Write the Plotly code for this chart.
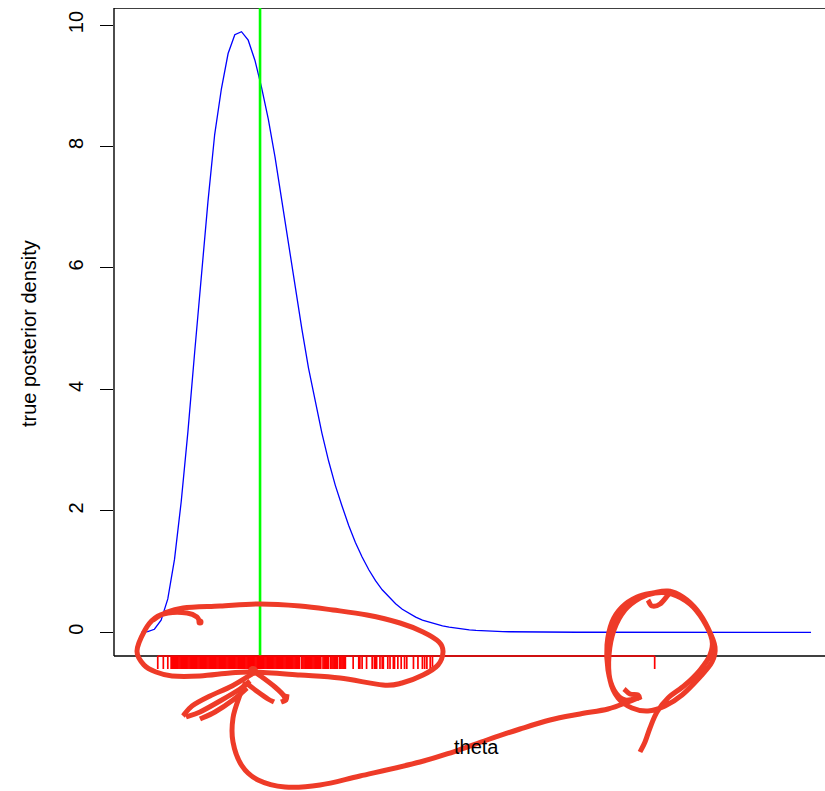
import numpy as np
import plotly.graph_objects as go

W, H = 825, 791
FONT = "Liberation Sans, Arial, Helvetica, sans-serif"

# ---- data -----------------------------------------------------------------
# evaluation grid for theta and the true posterior density on that grid
theta_grid = np.round(np.arange(101) * 0.006, 3)
density = [
    0.0, 0.01, 0.05, 0.20, 0.55, 1.20, 2.15, 3.30, 4.60, 5.90,
    7.10, 8.20, 8.95, 9.53, 9.84, 9.89, 9.75, 9.42, 8.97, 8.45,
    7.83, 7.12, 6.40, 5.70, 5.00, 4.35, 3.80, 3.28, 2.82, 2.42,
    2.08, 1.76, 1.48, 1.24, 1.03, 0.85, 0.70, 0.58, 0.47, 0.38,
    0.31, 0.25, 0.20, 0.165, 0.133, 0.107, 0.086, 0.068, 0.053, 0.041,
    0.031, 0.024, 0.018, 0.014, 0.011, 0.009, 0.007, 0.0055, 0.0044, 0.0035,
    0.0027, 0.0021, 0.0017, 0.0013, 0.0010, 0.0008, 0.0006, 0.0005, 0.0004, 0.0003,
    0.0003, 0.0002, 0.0002, 0.0002, 0.0001, 0.0001, 0.0001, 0.0001, 0.0001, 0.0,
    0.0, 0.0, 0.0, 0.0, 0.0, 0.0, 0.0, 0.0, 0.0, 0.0,
    0.0, 0.0, 0.0, 0.0, 0.0, 0.0, 0.0, 0.0, 0.0, 0.0,
    0.0,
]

# true parameter value (vertical reference line)
theta_true = 0.1066

# sampled theta values shown along the x axis (in thousandths of theta)
rug_milli = [
    15, 20, 24,
    27, 28, 29, 30, 31, 32, 33, 34, 35, 36, 37, 38, 39, 40, 41, 42, 43, 44,
    45, 46, 47, 48, 49, 50, 51, 52, 53, 54, 55, 56, 57, 58, 59, 60, 61, 62,
    63, 64, 65, 66, 67, 68, 69, 70, 71, 72, 73, 74, 75, 76, 77, 78, 79, 80,
    81, 82, 83, 84, 85, 86, 87, 88, 89, 90, 91, 92, 93, 94, 95, 96, 97, 98,
    99, 100, 101, 102, 103, 104, 105, 106, 107, 108, 109, 110, 111, 112, 113,
    114, 115, 116, 117, 118, 119, 120, 121, 122, 123, 124, 125, 126, 127, 128,
    129, 130, 131, 132, 133, 134, 135, 136, 137, 138, 139, 140, 141, 142,
    144, 145, 146, 147, 148, 149, 150, 151, 152, 153, 154, 155, 156, 157, 158,
    159, 160, 161, 163, 164, 165, 166, 167, 168, 170, 171, 172, 173, 174, 175,
    176, 178, 179, 180, 181, 182, 183,
    190, 195, 196, 198, 202, 207, 209, 210, 211, 214, 216, 217, 221, 223, 226,
    227, 230, 233, 236, 238, 244, 248, 252, 254, 256, 259, 261,
    460,
]
rug_theta = np.array(rug_milli) / 1000.0

y_ticks = [0, 2, 4, 6, 8, 10]
x_title = "theta"
y_title = "true posterior density"

# ---- axis geometry (pixels of the 825x791 page) ----------------------------
PX_LEFT, PX_RIGHT = 114, 825       # plot region horizontally
PY_TOP, PY_BOT = 8, 700            # axis domain vertically (room for rug ticks)
X0_PX, X_SCALE = 141.0, 1116.7     # theta -> px
Y0_PX, Y_SCALE = 632.3, 60.73      # density -> px

x_range = [(PX_LEFT - X0_PX) / X_SCALE, (PX_RIGHT - X0_PX) / X_SCALE]
y_range = [(Y0_PX - PY_BOT) / Y_SCALE, (Y0_PX - PY_TOP) / Y_SCALE]
y_box_bottom = (Y0_PX - 656) / Y_SCALE
y_box_top = y_range[1]
y_rug_end = (Y0_PX - 669) / Y_SCALE


# page pixels -> paper fractions (margins are zero, so paper = whole page)
def px_x(px):
    return px / W


def px_y(py):
    return 1 - py / H


def smooth_path(pts):
    """Catmull-Rom spline through pixel points, as an SVG path in paper units."""
    p = [pts[0]] + list(pts) + [pts[-1]]
    d = "M {:.5f},{:.5f}".format(px_x(p[1][0]), px_y(p[1][1]))
    for i in range(1, len(p) - 2):
        a, b, c, e = p[i - 1], p[i], p[i + 1], p[i + 2]
        c1 = (b[0] + (c[0] - a[0]) / 6, b[1] + (c[1] - a[1]) / 6)
        c2 = (c[0] - (e[0] - b[0]) / 6, c[1] - (e[1] - b[1]) / 6)
        d += " C {:.5f},{:.5f} {:.5f},{:.5f} {:.5f},{:.5f}".format(
            px_x(c1[0]), px_y(c1[1]), px_x(c2[0]), px_y(c2[1]),
            px_x(c[0]), px_y(c[1]))
    return d


fig = go.Figure()

# posterior density curve
fig.add_trace(go.Scatter(
    x=theta_grid, y=density, mode="lines",
    line=dict(color="#0000FF", width=1.3), hoverinfo="skip"))

# true value
fig.add_trace(go.Scatter(
    x=[theta_true, theta_true], y=[y_box_bottom, y_box_top], mode="lines",
    line=dict(color="#00FF00", width=2.6), hoverinfo="skip"))

# rug: baseline from first to last sample, then one tick per sample
fig.add_trace(go.Scatter(
    x=[rug_theta.min(), rug_theta.max()], y=[y_box_bottom, y_box_bottom],
    mode="lines", line=dict(color="#FF0000", width=1.3), hoverinfo="skip"))
rx, ry = [], []
for t in rug_theta:
    rx += [t, t, None]
    ry += [y_box_bottom, y_rug_end, None]
fig.add_trace(go.Scatter(
    x=rx, y=ry, mode="lines",
    line=dict(color="#FF0000", width=1.7), hoverinfo="skip"))

shapes = []
# plot box (left, top, bottom)
box = dict(color="black", width=1.4)
xl = px_x(PX_LEFT)
shapes.append(dict(type="line", xref="paper", yref="y", x0=xl, x1=xl,
                   y0=y_box_bottom, y1=y_box_top, line=box, layer="below"))
shapes.append(dict(type="line", xref="paper", yref="y", x0=xl, x1=1,
                   y0=y_box_top, y1=y_box_top, line=box, layer="below"))
shapes.append(dict(type="line", xref="paper", yref="y", x0=xl, x1=1,
                   y0=y_box_bottom, y1=y_box_bottom, line=box, layer="below"))

# hand-drawn markup
ink = "rgb(238,59,40)"
strokes = [
    # loop around the bulk of the samples
    [(200, 623), (197, 617), (187, 613), (168, 613), (155, 618), (145, 630),
     (137, 651), (144, 665), (156, 672), (172, 676), (200, 676), (230, 673),
     (253, 672), (300, 675), (340, 678), (383, 685), (402, 683), (423, 675),
     (438, 665), (443, 652), (439, 642), (423, 632), (400, 623), (367, 615),
     (333, 610), (300, 606), (260, 604), (220, 606), (183, 608), (165, 613),
     (153, 620)],
    # feathered strokes below the loop
    [(183, 716), (192, 706), (210, 696), (232, 686), (252, 674)],
    [(186, 717), (200, 712), (220, 701), (240, 689), (250, 681)],
    [(200, 719), (215, 712), (233, 700), (247, 688)],
    [(252, 670), (262, 677), (275, 687), (284, 696), (285, 702)],
    [(246, 683), (258, 692), (268, 699), (274, 702)],
    [(281, 702), (286, 700), (287, 694)],
    # connector to the lone sample
    [(246, 682), (240, 695), (233, 718), (233, 742), (242, 766), (258, 780),
     (285, 787), (320, 785), (360, 776), (420, 762), (453, 752), (487, 740),
     (520, 729), (550, 720), (580, 714), (608, 709), (628, 702), (640, 697)],
    # circle around the lone sample, with its tail
    [(640, 697), (625, 700), (614, 690), (608, 670), (607, 645), (612, 622),
     (622, 607), (637, 597), (653, 593), (668, 591), (683, 597), (697, 610),
     (708, 628), (715, 647), (712, 662), (700, 677), (682, 695), (665, 706),
     (648, 711), (632, 708), (618, 698), (610, 680), (609, 655), (614, 630),
     (625, 610), (640, 598), (655, 593), (672, 594), (690, 604), (703, 620),
     (712, 640), (710, 655), (700, 670), (685, 685), (668, 698), (657, 712),
     (650, 728), (645, 742), (640, 752)],
    [(624, 689), (630, 694), (638, 695), (640, 700)],
    [(648, 600), (652, 606), (660, 604), (668, 595), (672, 590)],
]
for s in strokes:
    shapes.append(dict(type="path", xref="paper", yref="paper",
                       path=smooth_path(s), line=dict(color=ink, width=5),
                       fillcolor="rgba(0,0,0,0)", layer="above"))
for (cx, cy, r) in [(200, 622, 3.5), (253, 671, 5)]:
    shapes.append(dict(type="circle", xref="paper", yref="paper",
                       x0=px_x(cx - r), x1=px_x(cx + r),
                       y0=px_y(cy + r), y1=px_y(cy - r),
                       fillcolor=ink, line=dict(color=ink, width=0),
                       layer="above"))

fig.update_layout(
    width=W, height=H,
    margin=dict(l=0, r=0, t=0, b=0),
    paper_bgcolor="white", plot_bgcolor="white",
    showlegend=False, hovermode=False,
    font=dict(family=FONT, size=20, color="black"),
    xaxis=dict(domain=[PX_LEFT / W, 1], range=x_range, showgrid=False,
               zeroline=False, showline=False, showticklabels=False,
               ticks="", fixedrange=True),
    yaxis=dict(domain=[1 - PY_BOT / H, 1 - PY_TOP / H], range=y_range,
               showgrid=False, zeroline=False, showline=False,
               tickmode="array", tickvals=y_ticks,
               ticktext=[str(v) for v in y_ticks],
               ticks="outside", ticklen=13, tickwidth=1.3, tickcolor="black",
               tickangle=-90, ticklabelstandoff=9,
               tickfont=dict(family=FONT, size=20, color="black"),
               fixedrange=True),
    shapes=shapes,
    annotations=[
        dict(text=x_title, xref="paper", yref="paper",
             x=px_x(476), y=px_y(747), xanchor="center", yanchor="middle",
             showarrow=False, font=dict(family=FONT, size=20, color="black")),
        dict(text=y_title, xref="paper", yref="paper",
             x=px_x(29), y=px_y(334), xanchor="center", yanchor="middle",
             textangle=-90, showarrow=False,
             font=dict(family=FONT, size=20, color="black")),
    ],
)

fig.write_html("out.html")
